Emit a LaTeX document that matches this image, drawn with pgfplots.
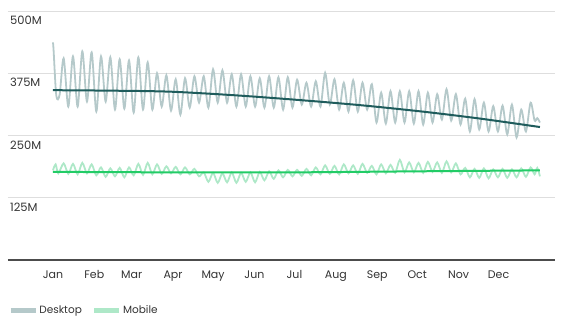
\documentclass[border=0pt]{standalone}
\usepackage{fontspec}
\setmainfont{Poppins}
\usepackage{pgfplots}
\pgfplotsset{compat=1.18}
\definecolor{deskc}{HTML}{B5C9CA}
\definecolor{desktrend}{HTML}{1F5C5C}
\definecolor{mobc}{HTML}{AEE8C8}
\definecolor{mobtrend}{HTML}{22CC66}
\definecolor{gridc}{HTML}{DEDEDE}
\definecolor{txt}{HTML}{333333}
\begin{document}
\begin{tikzpicture}
\useasboundingbox (-8pt,-61pt) rectangle (577pt,260pt);
\begin{axis}[
  scale only axis, width=547pt, height=249pt,
  xmin=-33.7, xmax=376.3, ymin=0, ymax=500,
  axis line style={draw=none},
  major tick length=0pt,
  ytick={125,250,375,500}, yticklabels={125M,250M,375M,500M},
  xtick={0,31,59,90,120,151,181,212,243,273,304,334},
  xticklabels={Jan,Feb,Mar,Apr,May,Jun,Jul,Aug,Sep,Oct,Nov,Dec},
  ymajorgrids, grid style={gridc, line width=0.9pt},
  /pgf/number format/assume math mode=true,
  yticklabel style={anchor=north west, inner sep=0pt, xshift=2pt, yshift=-5pt, font=\fontsize{11.5}{14}\selectfont, text=txt},
  xticklabel style={anchor=north, inner sep=0pt, yshift=-10.5pt, font=\fontsize{11}{13}\selectfont, text=txt},
  legend columns=2,
  legend style={draw=none, fill=none, at={(0,0)}, anchor=west, yshift=-50pt, xshift=0pt,
    inner sep=0pt, font=\fontsize{10.5}{13}\selectfont, text=txt,
    nodes={inner sep=0pt},
    /tikz/every odd column/.append style={column sep=1.2pt},
    /tikz/every even column/.append style={column sep=10pt}},
  legend image code/.code={\draw[#1, line width=5pt] (0pt,0pt) -- (25pt,0pt);},
]
\draw[color=black!70, line width=1.4pt] (rel axis cs:0,0) -- (rel axis cs:1,0);
\addplot[deskc, line width=1.8pt, smooth, tension=0.5] coordinates {
(0,437)(0.5,420)(2.5,330)(5,332)
(8,405)(11.5,308)(15,409)(18.5,308)(22,419)(25.5,318)(29,417)(32.5,298)(36,409)(39.5,318)(43,407)(46.5,302)(50,403)(53.5,304)(57,401)(60.5,296)(64,407)(67.5,302)(71,397)(74.5,302)(78,375)(81.5,308)(85,371)(88.5,300)(92,363)(95.5,292)(99,365)(102.5,306)(106,369)(109.5,316)(113,369)(116.5,306)(120,383)(123.5,316)(127,381)(130.5,316)(134,373)(137.5,308)(141,373)(144.5,308)(148,369)(151.5,308)(155,365)(158.5,306)(162,369)(165.5,306)(169,367)(172.5,302)(176,367)(179.5,306)(183,362)(186.5,312)(190,356)(193.5,308)(197,359)(200.5,308)(204,376)(207.5,312)(211,363)(214.5,302)(218,356)(221.5,298)(225,361)(228.5,298)(232,356)(235.5,302)(239,353)(242.5,276)(246,336)(249.5,274)(253,339)(256.5,276)(260,339)(263.5,276)(267,339)(270.5,274)(274,339)(277.5,272)(281,336)(284.5,276)(288,333)(291.5,282)(295,343)(298.5,280)(302,333)(305.5,272)(309,324)(312.5,258)(316,323)(319.5,262)(323,316)(326.5,258)(330,309)(333.5,258)(337,310)(340.5,252)(344,312)(347.5,246)(351,302)(354.5,258)(358,316)(361,280)(363,285)(365,276)
};
\addlegendentry{Desktop}
\addplot[mobc, line width=1.8pt, smooth, tension=0.5] coordinates {
(0,180)(2,192)(4,174)
(8,194)(11.5,173)(15,193)(18.5,172)(22,195)(25.5,174)(29,192)(32.5,170)(36,186)(39.5,167)(43,184)(46.5,168)(50,185)(53.5,166)(57,186)(60.5,170)(64,193)(67.5,171)(71,195)(74.5,172)(78,192)(81.5,173)(85,188)(88.5,174)(92,187)(95.5,172)(99,186)(102.5,172)(106,183)(109.5,168)(113,176)(116.5,157)(120,175)(123.5,155)(127,174)(130.5,156)(134,176)(137.5,155)(141,175)(144.5,157)(148,176)(151.5,156)(155,177)(158.5,160)(162,178)(165.5,163)(169,180)(172.5,166)(176,181)(179.5,168)(183,181)(186.5,169)(190,183)(193.5,170)(197,186)(200.5,172)(204,190)(207.5,173)(211,189)(214.5,172)(218,192)(221.5,174)(225,190)(228.5,173)(232,193)(235.5,175)(239,189)(242.5,172)(246,192)(249.5,174)(253,191)(256.5,175)(260,201)(263.5,176)(267,196)(270.5,176)(274,195)(277.5,175)(281,197)(284.5,177)(288,196)(291.5,175)(295,198)(298.5,176)(302,194)(305.5,172)(309,185)(312.5,166)(316,183)(319.5,165)(323,184)(326.5,164)(330,182)(333.5,166)(337,183)(340.5,165)(344,182)(347.5,166)(351,184)(354.5,167)(358,186)(361,172)(363,185)(365,168)
};
\addlegendentry{Mobile}
\addplot[desktrend, line width=2pt, smooth, forget plot] coordinates {
(0,341)(45,340)(88,338)(135,331)(181,322)(230,311)(277,298)(320,284)(365,267)
};
\addplot[mobtrend, line width=2pt, smooth, forget plot] coordinates {
(0,177)(90,176)(180,176)(270,178)(365,180)
};
\end{axis}
\end{tikzpicture}
\end{document}
